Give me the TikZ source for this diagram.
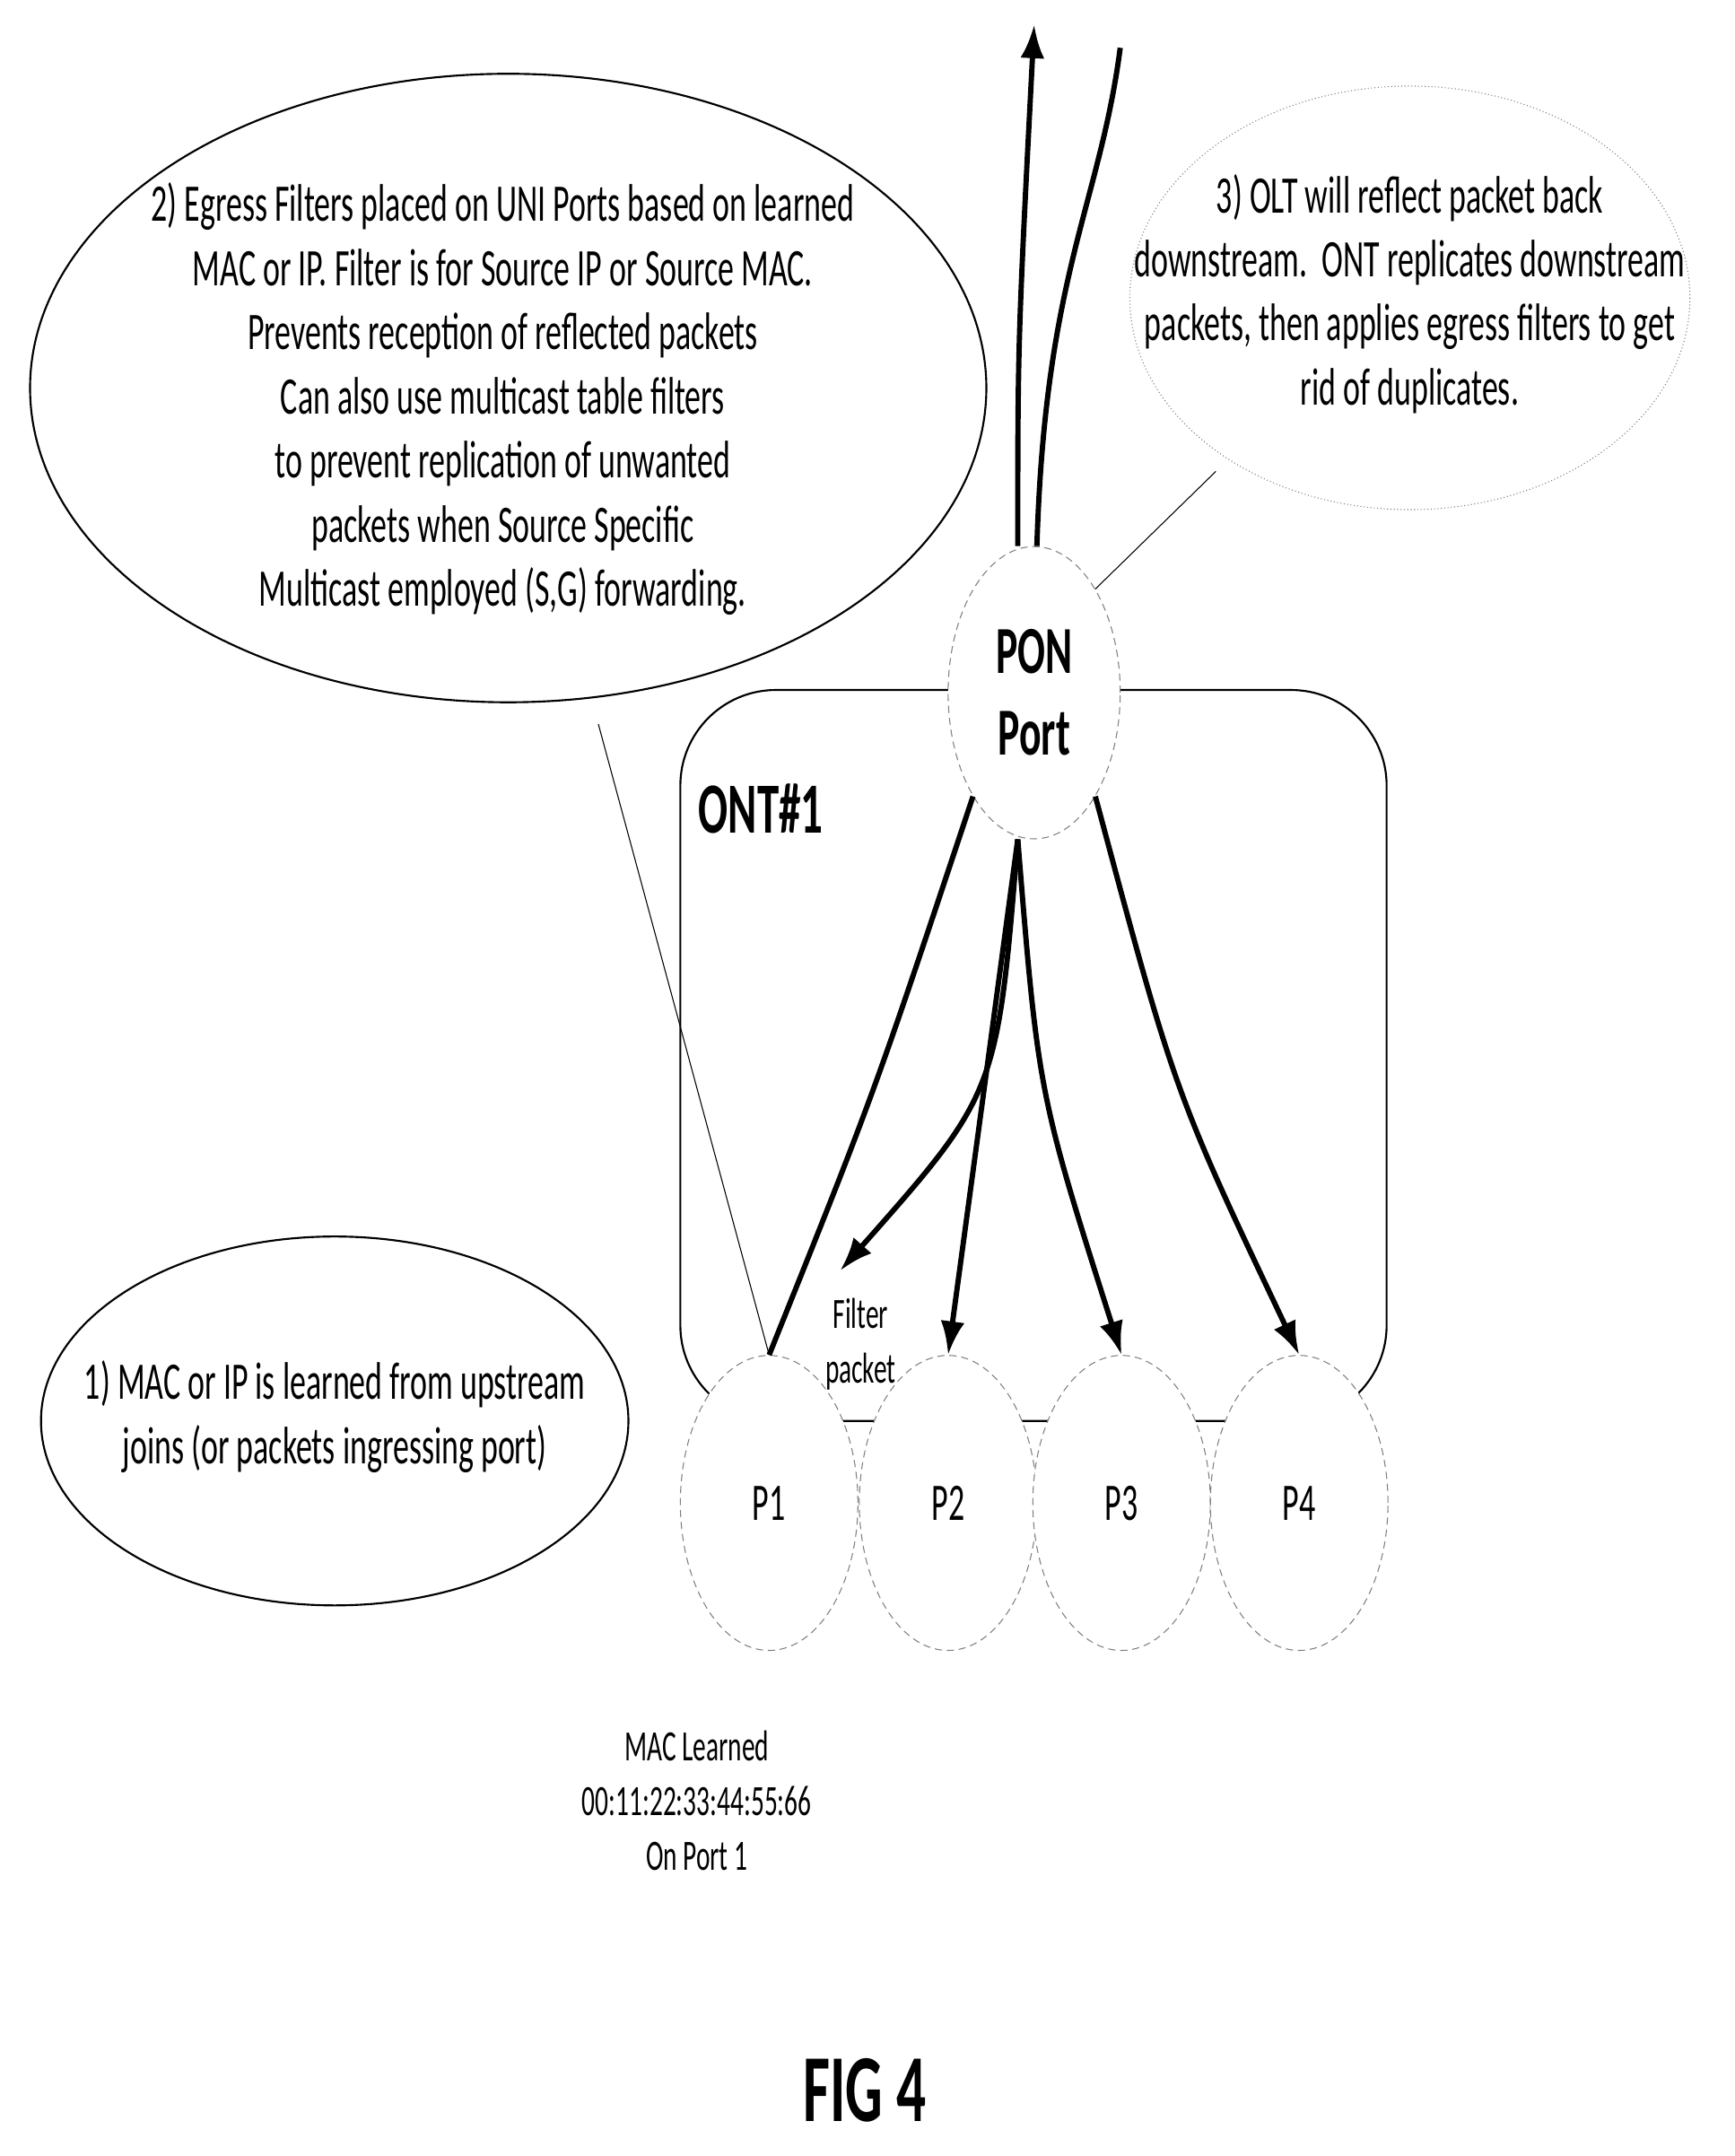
\documentclass[tikz,border=0pt]{standalone}
\usepackage{fontspec}
\setmainfont{Carlito}[FakeStretch=0.61]
\usetikzlibrary{arrows,arrows.meta,positioning,calc,shapes.geometric}
\begin{document}
\begin{tikzpicture}[x=0.02cm,y=-0.02cm,
  port/.style={draw,gray,densely dashed,fill=white,text=black},
  txt/.style={font=\fontsize{22}{26.7}\selectfont,align=center,inner sep=0},
  flow/.style={line width=2.2pt,-{Latex[length=14pt,width=10pt]}}]
\useasboundingbox (0,0) rectangle (1270,1578);

% callouts
\draw[thick] (372,284) ellipse (350 and 230);
\draw[gray,densely dotted] (1032,218) ellipse (205 and 155);
\draw[thick] (245,1040) ellipse (215 and 135);
\node[txt] (t2) at (368,292) {2) Egress Filters placed on UNI Ports based on learned\\MAC or IP. Filter is for Source IP or Source MAC.\\Prevents reception of reflected packets\\Can also use multicast table filters\\to prevent replication of unwanted\\packets when Source Specific\\Multicast employed (S,G) forwarding.};
\node[txt] (t3) at (1032,215) {3) OLT will reflect packet back\\downstream.\ \ ONT replicates downstream\\packets, then applies egress filters to get\\rid of duplicates.};
\node[txt] (t1) at (245,1037) {1) MAC or IP is learned from upstream\\joins (or packets ingressing port)};

% ONT box
\draw[thick,rounded corners=1.4cm] (498,505) rectangle (1015,1040);
\node[font=\fontsize{30}{30}\selectfont\bfseries,inner sep=0] (ont) at (557,592) {ONT\#1};

% ports
\foreach \n/\x in {1/563,2/694,3/821,4/951}
  \node[port,ellipse,minimum width=2.6cm,minimum height=4.32cm,txt] (p\n) at (\x,1100) {P\n};
\node[port,ellipse,minimum width=2.52cm,minimum height=4.28cm,txt,font=\fontsize{28}{34}\selectfont\bfseries] (pon) at (757,507) {PON\\Port};

% leaders
\coordinate (c2) at (438,530);
\coordinate (c3) at (890,345);
\draw (c2) -- (p1.north);
\draw (c3) -- (pon.north east);

% traffic
\coordinate (up) at (757,18);
\coordinate (out) at (820,35);
\draw[flow] ($(pon.north)+(-12,0)$) .. controls (745,250) .. (up);
\draw[line width=2.2pt] ($(pon.north)+(2,0)$) .. controls (765,200) and (805,150) .. (out);
\draw[line width=2.2pt] (p1.north) .. controls (640,800) .. (pon.south west);
\draw[flow] ($(pon.south)+(-12,0)$) .. controls (730,800) .. (615,930);
\draw[flow] ($(pon.south)+(-12,0)$) .. controls (720,800) .. (p2.north);
\draw[flow] ($(pon.south)+(-12,0)$) .. controls (760,800) .. (p3.north);
\draw[flow] (pon.south east) .. controls (860,800) .. (p4.north);

\node[font=\fontsize{18}{22.8}\selectfont,align=center,inner sep=0] (flt) at (630,984) {Filter\\packet};
\node[font=\fontsize{18}{22.8}\selectfont,align=center,inner sep=0] (mac) at (510,1318) {MAC Learned\\00:11:22:33:44:55:66\\On Port 1};
\node[font=\fontsize{40}{40}\selectfont\bfseries,inner sep=0] (fig) at (633,1530) {FIG 4};
\end{tikzpicture}
\end{document}
